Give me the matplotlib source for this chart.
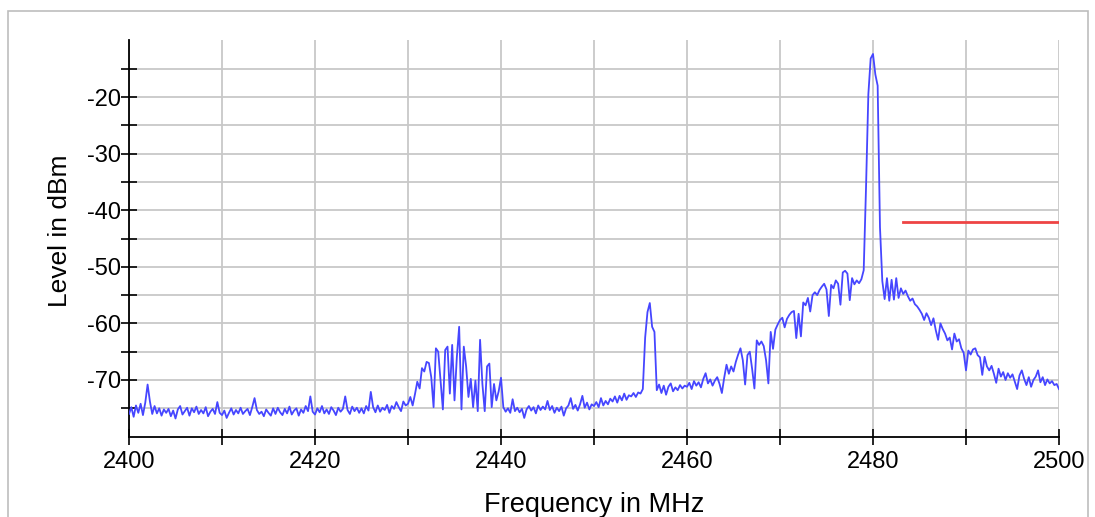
import numpy as np
import matplotlib
matplotlib.use("Agg")
import matplotlib.pyplot as plt
from matplotlib.patches import Rectangle

# ---- data ----
start_mhz = 2400.0
step_mhz = 0.25

row_2400 = [-76.0, -74.8, -76.5, -74.5, -75.8, -74.2, -76.2, -74.0, -70.8, -73.8, -76.0, -74.6, -75.9, -75.0, -76.3, -75.2, -75.8, -75.1, -76.4, -75.4]
row_2405 = [-76.8, -75.2, -74.6, -76.1, -75.5, -74.9, -76.3, -75.0, -75.7, -74.7, -76.0, -75.3, -75.9, -74.8, -76.4, -75.6, -75.1, -76.0, -73.9, -75.8]
row_2410 = [-76.2, -75.4, -76.7, -75.8, -75.0, -76.1, -75.3, -75.9, -74.9, -76.0, -75.5, -75.1, -76.2, -74.8, -73.2, -75.3, -76.0, -75.6, -76.4, -75.2]
row_2415 = [-75.8, -76.3, -75.0, -76.0, -74.9, -75.7, -76.2, -75.1, -75.9, -74.7, -76.1, -75.4, -75.0, -76.3, -75.2, -75.8, -74.6, -75.5, -72.9, -75.6]
row_2420 = [-76.1, -75.0, -75.7, -74.6, -75.9, -75.2, -76.0, -74.8, -75.4, -76.2, -74.9, -75.6, -75.1, -72.9, -75.3, -76.0, -74.7, -75.5, -74.9, -75.8]
row_2425 = [-75.0, -75.9, -74.6, -75.4, -72.1, -74.8, -75.7, -74.5, -75.6, -74.9, -75.3, -74.4, -75.8, -74.6, -75.1, -73.9, -74.8, -75.5, -73.8, -74.5]
row_2430 = [-74.2, -73.0, -74.5, -72.5, -70.3, -71.5, -67.9, -68.5, -66.8, -67.0, -69.5, -74.8, -64.4, -65.0, -70.1, -75.2, -64.7, -64.1, -72.4, -63.8]
row_2435 = [-73.6, -66.0, -60.6, -75.2, -64.1, -67.6, -73.0, -69.8, -74.8, -70.1, -75.5, -62.9, -70.7, -75.5, -67.6, -67.1, -74.8, -70.7, -73.6, -72.0]
row_2440 = [-69.6, -74.8, -75.6, -75.0, -75.8, -73.4, -75.5, -74.9, -75.7, -75.1, -76.7, -75.2, -74.6, -75.4, -74.8, -75.9, -74.5, -75.3, -74.7, -75.2]
row_2445 = [-73.7, -75.3, -74.6, -75.8, -74.9, -75.5, -74.7, -76.3, -75.0, -74.5, -73.2, -75.1, -74.4, -75.4, -74.3, -72.8, -74.9, -74.0, -75.2, -74.3]
row_2450 = [-74.6, -73.9, -74.8, -73.2, -74.5, -73.7, -74.3, -73.3, -73.8, -72.9, -74.0, -72.8, -73.6, -72.4, -73.5, -72.7, -72.9, -72.3, -73.0, -72.2]
row_2455 = [-72.4, -71.6, -62.5, -58.0, -56.4, -60.6, -61.5, -71.8, -70.8, -72.3, -71.0, -72.6, -71.2, -70.6, -72.0, -71.3, -71.8, -70.9, -71.5, -71.0]
row_2460 = [-71.2, -70.5, -71.6, -70.2, -71.0, -70.4, -71.3, -69.8, -68.8, -70.6, -69.9, -71.0, -70.1, -69.5, -70.7, -72.3, -69.6, -67.3, -68.9, -67.6]
row_2465 = [-68.5, -66.8, -65.5, -64.4, -66.5, -70.8, -65.6, -65.0, -68.0, -71.5, -63.0, -63.8, -63.2, -64.0, -66.5, -70.6, -61.5, -64.5, -61.1, -60.2]
row_2470 = [-59.4, -59.0, -60.7, -59.2, -58.5, -58.0, -57.8, -62.6, -58.3, -62.3, -56.3, -56.8, -55.5, -57.9, -55.0, -54.5, -55.0, -54.1, -53.5, -53.0]
row_2475 = [-54.0, -58.7, -53.2, -53.8, -52.4, -53.0, -56.7, -51.0, -50.7, -51.2, -55.9, -52.0, -53.1, -52.4, -52.9, -52.2, -50.6, -36.0, -19.5, -13.2]
row_2480 = [-12.4, -16.0, -18.0, -43.0, -52.5, -55.7, -52.0, -56.0, -52.3, -55.8, -52.0, -55.5, -53.8, -54.8, -54.2, -55.2, -56.0, -55.6, -56.6, -57.0]
row_2485 = [-57.6, -58.3, -59.4, -58.2, -59.0, -60.3, -59.1, -61.2, -62.9, -60.0, -61.0, -61.8, -63.0, -62.5, -64.6, -61.8, -63.2, -62.8, -64.4, -65.2]
row_2490 = [-68.3, -64.8, -65.5, -64.6, -64.4, -65.6, -66.0, -69.1, -65.9, -67.6, -68.3, -67.5, -68.9, -70.5, -68.0, -69.4, -68.6, -70.0, -68.8, -69.6]
row_2495 = [-69.0, -70.3, -71.6, -69.2, -68.3, -69.8, -70.9, -69.5, -71.2, -70.0, -69.4, -68.3, -70.4, -69.5, -70.9, -69.9, -70.6, -70.2, -70.9, -70.7]
row_2500 = [-71.6]

limit_freq = [2483.2, 2500.0]
limit_level = [-42.1, -42.1]

x_major = [2400, 2420, 2440, 2460, 2480, 2500]
x_minor = [2410, 2430, 2450, 2470, 2490]
y_major = [-70, -60, -50, -40, -30, -20]
y_minor = [-75, -65, -55, -45, -35, -25, -15]

level_dbm = (row_2400 + row_2405 + row_2410 + row_2415 + row_2420 + row_2425 +
             row_2430 + row_2435 + row_2440 + row_2445 + row_2450 + row_2455 +
             row_2460 + row_2465 + row_2470 + row_2475 + row_2480 + row_2485 +
             row_2490 + row_2495 + row_2500)
freq_mhz = start_mhz + step_mhz * np.arange(len(level_dbm))

# ---- style ----
plt.rcParams["font.family"] = ["Liberation Sans", "DejaVu Sans"]
plt.rcParams["axes.unicode_minus"] = False

W, H = 1095, 517
fig = plt.figure(figsize=(W / 100, H / 100), dpi=100)
fig.patch.set_facecolor("white")

# outer frame
fig.add_artist(Rectangle((8 / W, -0.05), (1088 - 8) / W, 1.05 - 11 / H,
                         transform=fig.transFigure, fill=False,
                         edgecolor="#bdbdbd", linewidth=1.2))

ax = fig.add_axes([129 / W, 1 - 436.6 / H, 930 / W, (436.6 - 40.4) / H])

ax.plot(freq_mhz, level_dbm, color="#4646ff", linewidth=1.3, zorder=3)
ax.plot(limit_freq, limit_level, color="#ee4444", linewidth=2.0, zorder=3)

ax.set_xlim(2400, 2500)
ax.set_ylim(-80, -10)

ax.set_xticks(x_major)
ax.set_xticks(x_minor, minor=True)
ax.set_yticks(y_major)
ax.set_yticks(y_minor, minor=True)

ax.grid(True, which="both", color="#c8c8c8", linewidth=1.3, zorder=0)
ax.set_axisbelow(True)

for s in ["top", "right"]:
    ax.spines[s].set_visible(False)
for s in ["left", "bottom"]:
    ax.spines[s].set_color("black")
    ax.spines[s].set_linewidth(1.3)

ax.tick_params(axis="both", which="both", direction="inout", color="black", width=1.2)
ax.tick_params(axis="x", which="both", length=11, pad=5, labelsize=17)
ax.tick_params(axis="y", which="both", length=11, pad=0, labelsize=17)

ax.set_xlabel("Frequency in MHz", fontsize=19.5)
ax.xaxis.set_label_coords(0.5, (436.6 - 505) / (436.6 - 40.4), transform=ax.transAxes)
ax.xaxis.label.set_va("center")
ax.set_ylabel("Level in dBm", fontsize=19)
ax.yaxis.set_label_coords((60 - 129) / 930, (436.6 - 231) / (436.6 - 40.4), transform=ax.transAxes)
ax.yaxis.label.set_va("center")

fig.savefig("out.png", dpi=100, facecolor="white")
